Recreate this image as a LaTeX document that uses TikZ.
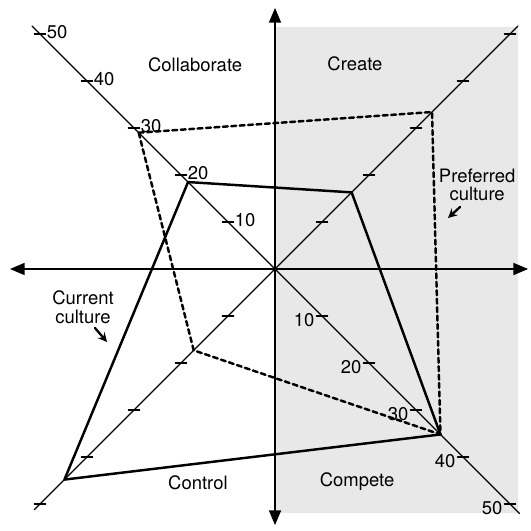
\documentclass[tikz,border=0pt]{standalone}
\usepackage{fontspec}
\setmainfont{TeX Gyre Heros}
\usetikzlibrary{arrows}

\begin{document}
\begin{tikzpicture}[line cap=round,line join=round,>=triangle 45,x=0.94cm,y=0.94cm,
		font=\fontsize{10.5}{10.5}\selectfont]
		\useasboundingbox (-5.851,-5.574) rectangle (5.426,5.723);
		\fill [black!9] (0.,-5.19) rectangle (5.17,5.15);
		% axes
		\coordinate (top) at (0.,5.553);
		\coordinate (bottom) at (0.,-5.447);
		\coordinate (left) at (-5.638,0.);
		\coordinate (right) at (5.383,0.);
		\coordinate (nw) at (-5.17,5.17);
		\coordinate (se) at (5.2,-5.2);
		\coordinate (ne) at (5.17,5.17);
		\coordinate (sw) at (-5.12,-5.12);
		\draw [line width=0.9pt,<->] (bottom)-- (top);
		\draw [line width=0.9pt,<->] (left)-- (right);
		\draw [line width=0.7pt] (nw)-- (se);
		\draw [line width=0.7pt] (ne)-- (sw);
		\foreach \v/\lab in {1/10,2/20,3/30,4/40,5/50} {
			\draw [line width=0.6pt] (-\v-0.12,\v)-- (-\v+0.12,\v);
			\draw [line width=0.6pt] (\v-0.12,-\v)-- (\v+0.12,-\v);
			\draw [line width=0.6pt] (\v-0.12,\v)-- (\v+0.12,\v);
			\draw [line width=0.6pt] (-\v-0.12,-\v)-- (-\v+0.12,-\v);
			\draw (-\v+0.1,\v+0.04) node (nwlab\v) [anchor=west,inner sep=1pt] {\lab};
			\draw (\v-0.12,-\v-0.08) node (selab\v) [anchor=east,inner sep=1pt] {\lab};
		}
		% current culture
		\coordinate (curcol) at (-1.85,1.85);
		\coordinate (curcre) at (1.63,1.63);
		\coordinate (curcom) at (3.52,-3.52);
		\coordinate (curcon) at (-4.48,-4.48);
		\draw [line width=1.4pt] (curcol)-- (curcre)-- (curcom)-- (curcon)-- cycle;
		% preferred culture
		\coordinate (precol) at (-2.9,2.9);
		\coordinate (precre) at (3.34,3.34);
		\coordinate (precom) at (3.52,-3.52);
		\coordinate (precon) at (-1.73,-1.73);
		\draw [line width=1.4pt,dash pattern=on 2.8pt off 2pt] (precol)-- (precre)-- (precom)-- (precon)-- cycle;
		% quadrant names
		\draw (-1.70,4.34) node (collab) {Collaborate};
		\draw (1.70,4.36) node (create) {Create};
		\draw (-1.64,-4.55) node (control) {Control};
		\draw (1.745,-4.53) node (compete) {Compete};
		\draw (4.30,1.79) node (preflab) [align=center] {Preferred\\culture};
		\draw (-4.085,-0.81) node (curlab) [align=center] {Current\\culture};
		\coordinate (prefstart) at (3.936,1.319);
		\coordinate (prefend) at (3.681,1.085);
		\coordinate (curstart) at (-3.83,-1.255);
		\coordinate (curend) at (-3.574,-1.553);
		\draw [line width=1.3pt,-stealth] (prefstart)-- (prefend);
		\draw [line width=1.3pt,-stealth] (curstart)-- (curend);
		\end{tikzpicture}
\end{document}
